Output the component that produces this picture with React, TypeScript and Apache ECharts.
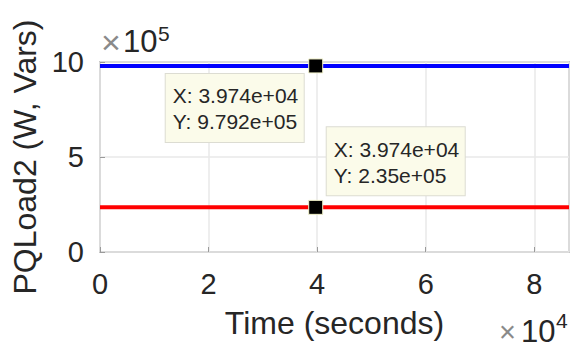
import React, { useEffect, useRef } from "react";
import * as echarts from "echarts";

// ---- data ----
const timeSec: number[] = [0, 86400];
const pLoad: number[] = [979200, 979200]; // blue
const qLoad: number[] = [235000, 235000]; // red
const tipTime = 39740;
const tipP = 979200;
const tipQ = 235000;
const xTickStep = 20000;
const yTickStep = 500000;
const xMax = 86400;
const yMax = 1000000;

const FONT = "'Liberation Sans', Arial, Helvetica, sans-serif";
const TXT = "#262626";

function matlabExp(v: number): string {
  if (v === 0) return "0";
  const e = Math.floor(Math.log10(Math.abs(v)));
  let m = (v / Math.pow(10, e)).toFixed(3);
  m = m.replace(/\.?0+$/, "");
  const sign = e < 0 ? "-" : "+";
  const ee = String(Math.abs(e)).padStart(2, "0");
  return `${m}e${sign}${ee}`;
}

function tipLabel(x: number, y: number, offset: [number, number]) {
  return {
    show: true,
    position: "inside",
    offset,
    formatter: `{a|X: ${matlabExp(x)}}\n{a|Y: ${matlabExp(y)}}`,
    backgroundColor: "#fbfbea",
    borderColor: "#dcdcd2",
    borderWidth: 1,
    padding: [9, 6, 7, 7],
    lineHeight: 26,
    fontSize: 21,
    rich: {
      a: {
        width: 125,
        align: "left",
        fontSize: 21,
        lineHeight: 26,
        height: 26,
        fontFamily: FONT,
        color: TXT,
      },
    },
  };
}

function expMark(x: number, y: number, sup: string, supDy: number, xSize: number) {
  return [
    {
      type: "text",
      x: x,
      y: y + 1,
      style: { text: "×", fontSize: xSize, fill: "#8a8a8a", fontFamily: FONT, align: "left", verticalAlign: "middle" },
    },
    {
      type: "text",
      x: x + 22,
      y: y,
      style: { text: "10", fontSize: 31, fill: TXT, fontFamily: FONT, align: "left", verticalAlign: "middle" },
    },
    {
      type: "text",
      x: x + 57,
      y: y + supDy,
      style: { text: sup, fontSize: 21, fill: TXT, fontFamily: FONT, align: "left", verticalAlign: "middle" },
    },
  ];
}

export default function App() {
  const ref = useRef<HTMLDivElement>(null);
  useEffect(() => {
    if (!ref.current) return;
    const chart = echarts.init(ref.current, undefined, { renderer: "svg" });
    chart.setOption({
      animation: false,
      backgroundColor: "#ffffff",
      textStyle: { fontFamily: FONT },
      grid: {
        left: 100,
        top: 62,
        right: 2,
        bottom: 97,
        show: true,
        borderColor: "#9a9a9a",
        borderWidth: 1.5,
        backgroundColor: "transparent",
      },
      xAxis: {
        type: "value",
        min: 0,
        max: xMax,
        interval: xTickStep,
        name: "Time (seconds)",
        nameLocation: "middle",
        nameGap: 55,
        nameTextStyle: { fontSize: 32, color: TXT, fontFamily: FONT },
        axisLine: { show: false },
        axisTick: { show: true, inside: true, length: 5, lineStyle: { color: "#9a9a9a" } },
        axisLabel: {
          fontSize: 29,
          color: TXT,
          margin: 17,
          fontFamily: FONT,
          showMaxLabel: false,
          formatter: (v: number) => String(v / 1e4),
        },
        splitLine: { show: true, lineStyle: { color: "#e8e8e8", width: 1.5 } },
      },
      yAxis: {
        type: "value",
        min: 0,
        max: yMax,
        interval: yTickStep,
        name: "PQLoad2 (W, Vars)",
        nameLocation: "middle",
        nameGap: 54,
        nameRotate: 90,
        nameTextStyle: { fontSize: 32, color: TXT, fontFamily: FONT },
        axisLine: { show: false },
        axisTick: { show: true, inside: true, length: 5, lineStyle: { color: "#9a9a9a" } },
        axisLabel: {
          fontSize: 29,
          color: TXT,
          margin: 16,
          fontFamily: FONT,
          formatter: (v: number) => String(v / 1e5),
        },
        splitLine: { show: true, lineStyle: { color: "#e8e8e8", width: 1.5 } },
      },
      graphic: [...expMark(101, 41, "5", -8, 34), ...expMark(499, 331, "4", -11, 29)],
      series: [
        {
          type: "line",
          data: timeSec.map((t, i) => [t, pLoad[i]]),
          showSymbol: false,
          lineStyle: { color: "#0000ff", width: 4 },
          itemStyle: { color: "#0000ff" },
          clip: false,
          z: 3,
        },
        {
          type: "line",
          data: timeSec.map((t, i) => [t, qLoad[i]]),
          showSymbol: false,
          lineStyle: { color: "#ff0000", width: 4 },
          itemStyle: { color: "#ff0000" },
          z: 3,
        },
        {
          type: "scatter",
          data: [{ value: [tipTime, tipP], label: tipLabel(tipTime, tipP, [-81, 42]) }],
          symbol: "rect",
          symbolSize: 14,
          itemStyle: { color: "#000000", borderColor: "#f4f4cc", borderWidth: 1, opacity: 1 },
          z: 5,
        },
        {
          type: "scatter",
          data: [{ value: [tipTime, tipQ], label: tipLabel(tipTime, tipQ, [80, -46]) }],
          symbol: "rect",
          symbolSize: 14,
          itemStyle: { color: "#000000", borderColor: "#f4f4cc", borderWidth: 1, opacity: 1 },
          z: 5,
        },
      ],
    });
    return () => chart.dispose();
  }, []);
  return (
    <div
      ref={ref}
      style={{ position: "fixed", left: 0, top: 0, width: 571, height: 349 }}
    />
  );
}
